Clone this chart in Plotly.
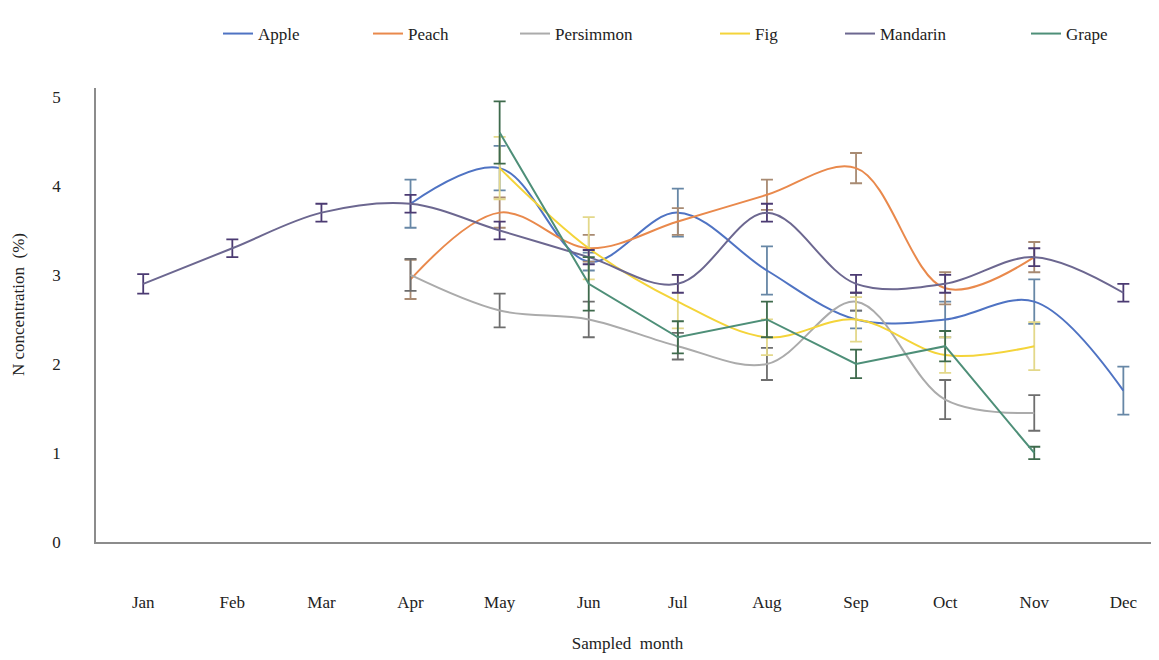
import plotly.graph_objects as go

months = ["Jan", "Feb", "Mar", "Apr", "May", "Jun", "Jul", "Aug", "Sep", "Oct", "Nov", "Dec"]

apple = [None, None, None, 3.8, 4.2, 3.15, 3.7, 3.05, 2.5, 2.5, 2.7, 1.7]
apple_err = [0, 0, 0, 0.27, 0.25, 0.1, 0.27, 0.27, 0.1, 0.2, 0.25, 0.27]

peach = [None, None, None, 2.95, 3.7, 3.3, 3.6, 3.9, 4.2, 2.85, 3.2, None]
peach_err = [0, 0, 0, 0.22, 0.17, 0.15, 0.15, 0.17, 0.17, 0.18, 0.17, 0]

persimmon = [None, None, None, 3.0, 2.6, 2.5, 2.2, 2.0, 2.7, 1.6, 1.45, None]
persimmon_err = [0, 0, 0, 0.18, 0.19, 0.2, 0.15, 0.18, 0.1, 0.22, 0.2, 0]

fig_v = [None, None, None, None, 4.2, 3.3, 2.7, 2.3, 2.5, 2.1, 2.2, None]
fig_err = [0, 0, 0, 0, 0.35, 0.35, 0.3, 0.2, 0.25, 0.2, 0.27, 0]

mandarin = [2.9, 3.3, 3.7, 3.8, 3.5, 3.2, 2.9, 3.7, 2.9, 2.9, 3.2, 2.8]
mandarin_err = [0.11, 0.1, 0.1, 0.1, 0.1, 0.08, 0.1, 0.1, 0.1, 0.1, 0.1, 0.1]

grape = [None, None, None, None, 4.6, 2.9, 2.3, 2.5, 2.0, 2.2, 1.0, None]
grape_err = [0, 0, 0, 0, 0.35, 0.3, 0.18, 0.2, 0.16, 0.17, 0.07, 0]

series = [
    ("Apple", apple, apple_err, "#4F73C3", "#6787A6", "spline"),
    ("Peach", peach, peach_err, "#E9894C", "#A88A72", "spline"),
    ("Persimmon", persimmon, persimmon_err, "#ABABAB", "#6E6E6E", "spline"),
    ("Fig", fig_v, fig_err, "#F4D43A", "#E3D88A", "spline"),
    ("Mandarin", mandarin, mandarin_err, "#6C6790", "#4B3A72", "spline"),
    ("Grape", grape, grape_err, "#4E8F78", "#3E6A4C", "linear"),
]

# page x where each legend label's text begins
legend_text_x = [258, 408, 555, 755, 880, 1066]

font_family = "Liberation Serif, Times New Roman, serif"

W, H = 1151, 652
L, R, T, B = 88, 0, 80, 118

fig = go.Figure()
layout_legends = {}
for i, (name, vals, errs, col, ecol, shape) in enumerate(series):
    key = "legend" if i == 0 else f"legend{i+1}"
    fig.add_trace(go.Scatter(
        x=list(range(len(months))), y=vals, name=name, mode="lines",
        line=dict(color=col, width=2, shape=shape, smoothing=1.0),
        error_y=dict(type="data", array=errs, visible=True, color=ecol, thickness=1.8, width=6),
        connectgaps=False, legend=key,
    ))
    layout_legends[key] = dict(
        x=(legend_text_x[i] - 48) / W, xref="container", xanchor="left",
        y=1 - 8 / H, yref="container", yanchor="top",
        font=dict(family=font_family, size=17, color="#222"),
        bgcolor="rgba(0,0,0,0)", borderwidth=0, itemwidth=30,
    )

fig.update_layout(
    width=W, height=H,
    margin=dict(l=L, r=R, t=T, b=B, autoexpand=False),
    paper_bgcolor="white", plot_bgcolor="white",
    showlegend=True,
    font=dict(family=font_family, size=17, color="#222"),
    **layout_legends,
)

fig.update_xaxes(
    range=[-0.53, 11.4], tickmode="array", tickvals=list(range(len(months))), ticktext=months,
    showgrid=False, zeroline=False, showline=True, linecolor="#8C8C8C", linewidth=1.5,
    ticks="", ticklabelstandoff=44,
    title=dict(text="Sampled  month", font=dict(family=font_family, size=17), standoff=26),
    automargin=False,
)
fig.update_yaxes(
    range=[0, 5.1], tickvals=[0, 1, 2, 3, 4, 5], showgrid=False, zeroline=False,
    showline=True, linecolor="#8C8C8C", linewidth=1.5, ticks="", ticklabelstandoff=30,
    automargin=False,
)

plot_w = W - L - R
plot_h = H - T - B
fig.add_annotation(
    text="N concentration  (%)", textangle=-90, showarrow=False,
    xref="paper", yref="paper",
    x=(10 - L) / plot_w, y=(H - B - 297) / plot_h,
    xanchor="center", yanchor="middle",
    font=dict(family=font_family, size=17, color="#222"),
)

fig.write_html("out.html")
